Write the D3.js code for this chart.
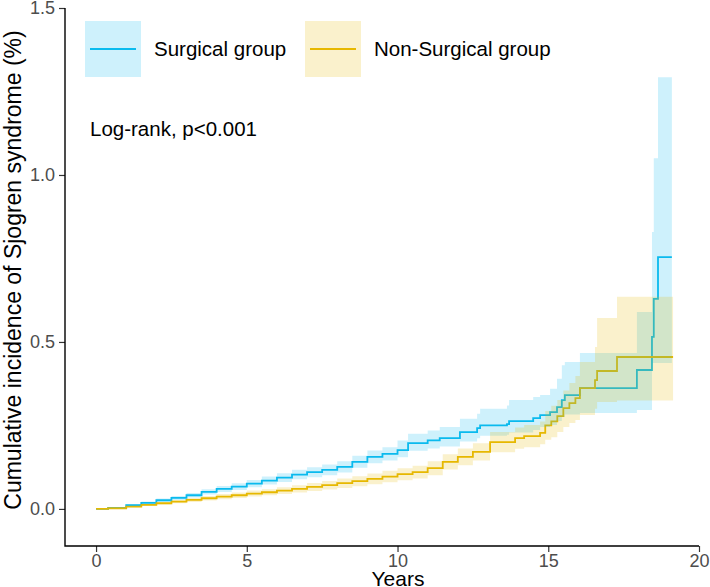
<!DOCTYPE html>
<html>
<head>
<meta charset="utf-8">
<script src="https://cdn.jsdelivr.net/npm/d3@7"></script>
<style>
  body { margin: 0; background: #fff; }
  svg text { font-family: "Liberation Sans", Arial, sans-serif; }
</style>
</head>
<body>
<div id="chart"></div>
<script>
// Surgical group: step times (years), cumulative incidence (%) and 95% CI
const surgTime = [0, 0.4, 1, 1.5, 2, 2.5, 3, 3.5, 4, 4.5, 5, 5.5, 6, 6.5, 7, 7.5, 8, 8.5, 9, 9.5, 10, 10.35, 11, 11.4, 12.07, 12.64, 12.74, 13.63, 13.7, 14.5, 14.73, 15.06, 15.29, 15.45, 15.55, 16.05, 17.94, 18.44, 18.5, 18.64, 19.1];
const surgEst  = [0, 0.003, 0.011, 0.018, 0.026, 0.033, 0.041, 0.051, 0.060, 0.067, 0.076, 0.085, 0.094, 0.103, 0.110, 0.117, 0.126, 0.141, 0.156, 0.165, 0.176, 0.197, 0.205, 0.212, 0.230, 0.242, 0.250, 0.254, 0.263, 0.272, 0.281, 0.290, 0.305, 0.326, 0.341, 0.362, 0.416, 0.515, 0.629, 0.754, 0.754];
const surgLow  = [0, 0.002, 0.008, 0.014, 0.021, 0.027, 0.034, 0.043, 0.051, 0.057, 0.065, 0.073, 0.081, 0.089, 0.095, 0.101, 0.109, 0.123, 0.137, 0.145, 0.155, 0.174, 0.181, 0.187, 0.202, 0.212, 0.219, 0.222, 0.229, 0.236, 0.245, 0.251, 0.263, 0.275, 0.283, 0.287, 0.296, 0.437, 0.437, 0.437, 0.437];
const surgHigh = [0, 0.004, 0.014, 0.022, 0.031, 0.039, 0.048, 0.059, 0.069, 0.077, 0.087, 0.097, 0.107, 0.117, 0.125, 0.133, 0.143, 0.159, 0.175, 0.185, 0.205, 0.225, 0.235, 0.245, 0.270, 0.285, 0.300, 0.310, 0.326, 0.335, 0.341, 0.360, 0.390, 0.430, 0.440, 0.467, 0.590, 0.829, 1.050, 1.293, 1.293];

// Non-surgical group
const nonTime = [0, 0.4, 1, 1.5, 2, 2.5, 3, 3.5, 4, 4.5, 5, 5.5, 6, 6.5, 7, 7.5, 8, 8.5, 9, 9.5, 10, 10.5, 11, 11.5, 12, 12.5, 13.07, 13.9, 14.2, 14.73, 14.9, 15.1, 15.3, 15.5, 15.7, 15.9, 16.05, 16.55, 16.62, 17.28, 19.14];
const nonEst   = [0, 0.002, 0.007, 0.012, 0.017, 0.022, 0.027, 0.032, 0.037, 0.041, 0.046, 0.050, 0.055, 0.060, 0.066, 0.071, 0.077, 0.083, 0.090, 0.097, 0.104, 0.110, 0.122, 0.141, 0.156, 0.171, 0.200, 0.212, 0.218, 0.228, 0.250, 0.262, 0.278, 0.302, 0.317, 0.332, 0.362, 0.386, 0.413, 0.455, 0.455];
const nonLow   = [0, 0.001, 0.005, 0.009, 0.013, 0.017, 0.021, 0.025, 0.029, 0.033, 0.037, 0.041, 0.045, 0.049, 0.054, 0.058, 0.063, 0.068, 0.074, 0.080, 0.086, 0.091, 0.101, 0.118, 0.131, 0.145, 0.170, 0.180, 0.185, 0.194, 0.207, 0.215, 0.230, 0.245, 0.257, 0.266, 0.281, 0.300, 0.320, 0.325, 0.325];
const nonHigh  = [0, 0.003, 0.009, 0.015, 0.021, 0.027, 0.033, 0.039, 0.045, 0.049, 0.055, 0.059, 0.065, 0.071, 0.078, 0.084, 0.091, 0.098, 0.106, 0.114, 0.122, 0.129, 0.143, 0.164, 0.181, 0.197, 0.230, 0.244, 0.251, 0.262, 0.293, 0.309, 0.326, 0.355, 0.377, 0.398, 0.440, 0.485, 0.572, 0.635, 0.635];

const xTicks = [0, 5, 10, 15, 20];
const yTicks = [0, 0.5, 1.0, 1.5];
const groups = ['Surgical group', 'Non-Surgical group'];
const colors = ['#0BBBEE', '#E7B800'];

const W = 710, H = 587;

const svg = d3.select('#chart')
    .append('svg')
    .attr('width', W)
    .attr('height', H);

// Scales
const x = d3.scaleLinear().domain([-1.03, 20]).range([65, 699]);
const y = d3.scaleLinear().domain([-0.111, 1.5]).range([546, 8]);

function rows(time, est, low, high) {
    return time.map((t, i) => ({t: t, est: est[i], low: low[i], high: high[i]}));
}
const series = [
    rows(surgTime, surgEst, surgLow, surgHigh),
    rows(nonTime, nonEst, nonLow, nonHigh)
];

const line = d3.line()
    .x(d => x(d.t))
    .y(d => y(d.est))
    .curve(d3.curveStepAfter);

const area = d3.area()
    .x(d => x(d.t))
    .y0(d => y(d.low))
    .y1(d => y(d.high))
    .curve(d3.curveStepAfter);

// Lines first, ribbons on top (as ggplot draws them)
series.forEach((s, i) => {
    svg.append('path')
        .datum(s)
        .attr('d', line)
        .attr('fill', 'none')
        .attr('stroke', colors[i])
        .attr('stroke-width', 1.8);
});
series.forEach((s, i) => {
    svg.append('path')
        .datum(s)
        .attr('d', area)
        .attr('fill', colors[i])
        .attr('fill-opacity', 0.2);
});

// Axes
const xAxis = svg.append('g')
    .attr('transform', 'translate(0,546)')
    .call(d3.axisBottom(x).tickValues(xTicks).tickSize(6).tickPadding(2));
const yAxis = svg.append('g')
    .attr('transform', 'translate(65,0)')
    .call(d3.axisLeft(y).tickValues(yTicks).tickFormat(d3.format('.1f')).tickSize(6).tickPadding(4));

[xAxis, yAxis].forEach(a => {
    a.select('.domain').remove();
    a.selectAll('.tick line').attr('stroke', '#333').attr('stroke-width', 1.2);
    a.selectAll('.tick text')
        .attr('fill', '#4d4d4d')
        .style('font-size', '18px')
        .style('font-family', '"Liberation Sans", Arial, sans-serif');
});

// axis lines (theme_classic)
svg.append('path')
    .attr('d', `M${x.range()[1]},${y.range()[0]}H${x.range()[0]}V${y.range()[1]}`)
    .attr('fill', 'none')
    .attr('stroke', '#000')
    .attr('stroke-width', 1.4);

// Axis titles
svg.append('text')
    .attr('x', 398)
    .attr('y', 586)
    .attr('text-anchor', 'middle')
    .style('font-size', '21px')
    .text('Years');

svg.append('text')
    .attr('transform', 'translate(21,270) rotate(-90)')
    .attr('text-anchor', 'middle')
    .style('font-size', '23px')
    .text('Cumulative incidence of Sjogren syndrome (%)');

// Legend
const legendX = [85, 305];
groups.forEach((name, i) => {
    const lg = svg.append('g').attr('transform', `translate(${legendX[i]},21)`);
    lg.append('rect')
        .attr('width', 56)
        .attr('height', 56)
        .attr('fill', colors[i])
        .attr('fill-opacity', 0.2);
    lg.append('line')
        .attr('x1', 5).attr('x2', 51)
        .attr('y1', 28).attr('y2', 28)
        .attr('stroke', colors[i])
        .attr('stroke-width', 1.8);
    lg.append('text')
        .attr('x', 69)
        .attr('y', 35)
        .style('font-size', '20.5px')
        .text(name);
});

svg.append('text')
    .attr('x', 90)
    .attr('y', 136)
    .style('font-size', '20.5px')
    .text('Log-rank, p<0.001');
</script>
</body>
</html>
